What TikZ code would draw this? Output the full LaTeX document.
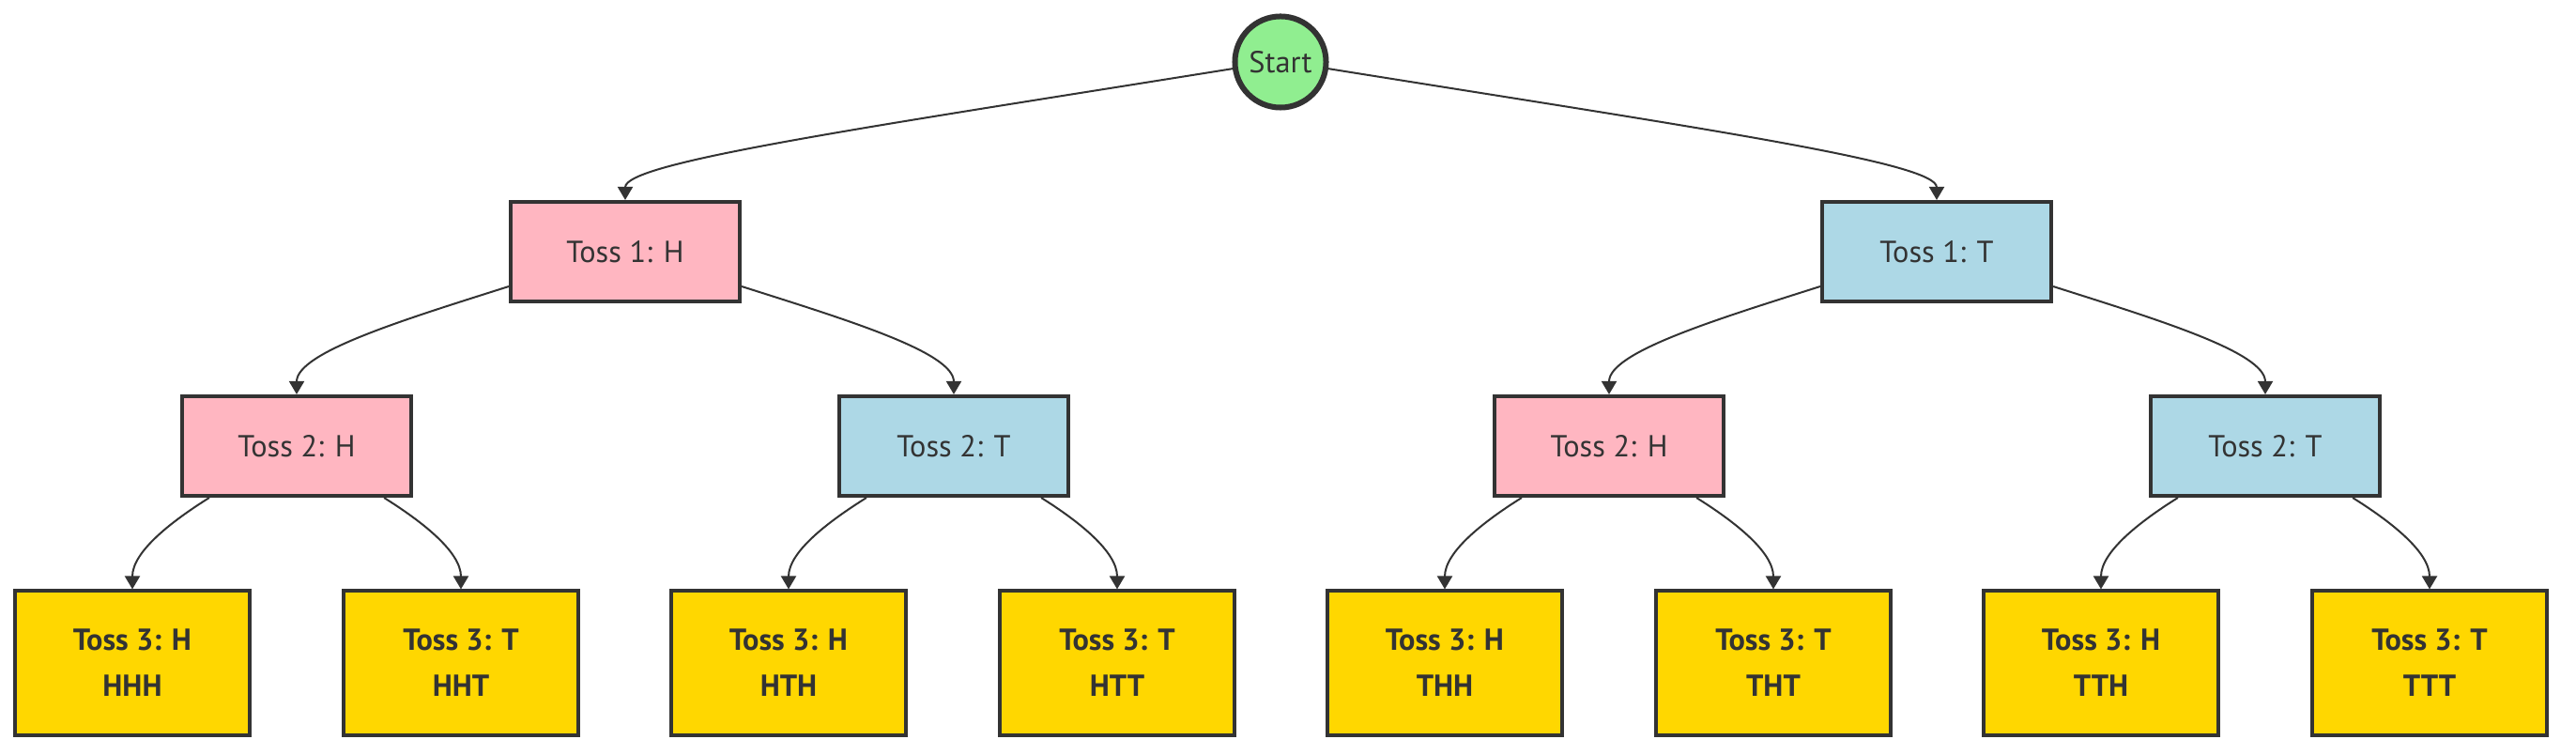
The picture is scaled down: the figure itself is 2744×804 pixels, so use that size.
\documentclass[tikz,border=0pt]{standalone}
\usepackage{fontspec}
\setmainfont{PT Sans}
\usetikzlibrary{arrows.meta}
\definecolor{inkgray}{HTML}{333333}
\definecolor{startgreen}{HTML}{90EE90}
\definecolor{headpink}{HTML}{FFB6C1}
\definecolor{tailblue}{HTML}{ADD8E6}
\definecolor{outgold}{HTML}{FFD700}
\tikzset{
  toss/.style={draw=inkgray, line width=0.04cm, text=inkgray,
    minimum width=2.44cm, minimum height=1.06cm, inner sep=0pt,
    font=\fontsize{9.2}{13.9}\selectfont},
  heads/.style={toss, fill=headpink},
  tails/.style={toss, fill=tailblue},
  outcome/.style={toss, fill=outgold, minimum width=2.50cm,
    minimum height=1.53cm, align=center,
    font=\fontsize{9.2}{13.9}\selectfont\bfseries},
  root/.style={circle, draw=inkgray, line width=0.06cm, fill=startgreen,
    text=inkgray, minimum size=0.97cm, inner sep=0pt,
    font=\fontsize{9.2}{13.9}\selectfont},
  branch/.style={draw=inkgray, line width=0.02cm,
    -{Triangle[width=0.16cm,length=0.14cm]}}
}
\begin{document}
\begin{tikzpicture}[x=0.01cm, y=-0.01cm]
\useasboundingbox (0,0) rectangle (2744,804);
\node[root] (start) at (1364,66) {Start};
\node[heads] (h) at (666,268) {Toss 1: H};
\node[tails] (t) at (2063,268) {Toss 1: T};
\node[heads] (hh) at (316,475) {Toss 2: H};
\node[tails] (ht) at (1016,475) {Toss 2: T};
\node[heads] (th) at (1714,475) {Toss 2: H};
\node[tails] (tt) at (2413,475) {Toss 2: T};
\foreach \x/\n/\s in {141/hhh/H, 491/hht/T, 840/hth/H, 1190/htt/T,
  1539/thh/H, 1889/tht/T, 2238/tth/H, 2588/ttt/T}
\node[outcome] (\n) at (\x,706) {Toss 3: \s\\\MakeUppercase{\n}};
% first toss
\draw[branch] (start.188) .. controls +(-400,64) and +(0,-40) .. (h.north);
\draw[branch] (start.-8) .. controls +(400,64) and +(0,-40) .. (t.north);
% second toss
\foreach \p in {h,t} {
\draw[branch] ([yshift=0.18cm]\p.south west) .. controls +(-110,35) and +(0,-45) .. (\p h.north);
\draw[branch] ([yshift=0.18cm]\p.south east) .. controls +(110,35) and +(0,-45) .. (\p t.north);
}
% third toss
\foreach \p in {hh,ht,th,tt} {
\draw[branch] ([xshift=-0.93cm]\p.south) .. controls +(-40,25) and +(0,-40) .. (\p h.north);
\draw[branch] ([xshift=0.93cm]\p.south) .. controls +(40,25) and +(0,-40) .. (\p t.north);
}
\end{tikzpicture}
\end{document}
